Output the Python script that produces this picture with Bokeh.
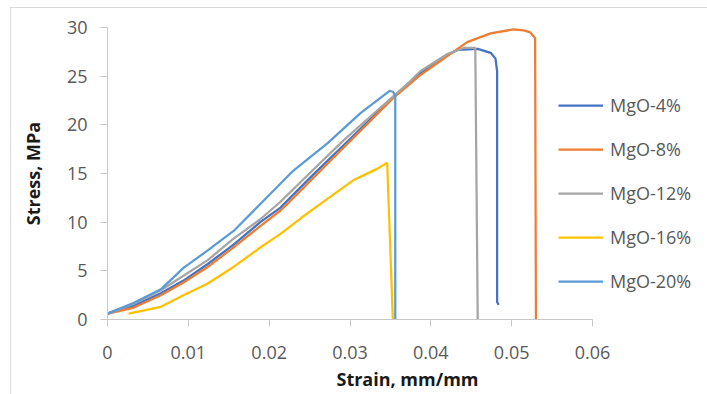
from bokeh.plotting import figure
from bokeh.models import Range1d, FixedTicker, CustomJSTickFormatter, Legend, LegendItem
from bokeh.embed import file_html
from bokeh.resources import INLINE

# ---- data ----
series_names = ["MgO-4%", "MgO-8%", "MgO-12%", "MgO-16%", "MgO-20%"]
series_colors = ["#4472C4", "#ED7D31", "#A5A5A5", "#FFC000", "#5B9BD5"]

mgo4_strain = [0, 0.0032, 0.0066, 0.0094, 0.0124, 0.0156, 0.0189, 0.0214, 0.0251, 0.0292,
               0.0313, 0.0354, 0.0387, 0.0421, 0.0433, 0.0458, 0.0474, 0.0480, 0.0482, 0.0482, 0.0484]
mgo4_stress = [0.6, 1.4, 2.7, 4.0, 5.7, 7.7, 10.0, 11.5, 14.6, 17.9,
               19.6, 22.9, 25.3, 27.2, 27.7, 27.8, 27.4, 26.8, 25.5, 1.8, 1.5]

mgo8_strain = [0, 0.0032, 0.0066, 0.0094, 0.0124, 0.0156, 0.0189, 0.0214, 0.0230, 0.0272,
               0.0313, 0.0354, 0.0387, 0.0421, 0.0445, 0.0474, 0.0502, 0.0515, 0.0523, 0.0529, 0.0530]
mgo8_stress = [0.6, 1.2, 2.5, 3.8, 5.4, 7.4, 9.6, 11.2, 12.5, 16.0,
               19.4, 22.8, 25.1, 27.1, 28.5, 29.4, 29.8, 29.7, 29.5, 28.9, 0]

mgo12_strain = [0, 0.0032, 0.0066, 0.0094, 0.0124, 0.0156, 0.0189, 0.0214, 0.0251, 0.0292,
                0.0334, 0.0371, 0.0387, 0.0421, 0.0441, 0.0455, 0.0458]
mgo12_stress = [0.6, 1.6, 3.0, 4.5, 6.1, 8.3, 10.3, 12.1, 15.1, 18.4,
                21.5, 24.2, 25.5, 27.3, 27.9, 27.9, 0]

mgo16_strain = [0.0026, 0.0066, 0.0094, 0.0124, 0.0156, 0.0189, 0.0214, 0.0239, 0.0272,
                0.0304, 0.0334, 0.0346, 0.0353]
mgo16_stress = [0.6, 1.3, 2.5, 3.7, 5.4, 7.4, 8.8, 10.4, 12.4,
                14.3, 15.5, 16.1, 0]

mgo20_strain = [0, 0.0032, 0.0066, 0.0094, 0.0124, 0.0156, 0.0193, 0.0230, 0.0272, 0.0313,
                0.0349, 0.0353, 0.0356, 0.0356]
mgo20_stress = [0.6, 1.7, 3.1, 5.3, 7.1, 9.1, 12.2, 15.3, 18.1, 21.2,
                23.5, 23.4, 23.0, 0]

x_ticks = [0, 0.01, 0.02, 0.03, 0.04, 0.05, 0.06]
y_ticks = [0, 5, 10, 15, 20, 25, 30]
x_title = "Strain, mm/mm"
y_title = "Stress, MPa"

series_x = [mgo4_strain, mgo8_strain, mgo12_strain, mgo16_strain, mgo20_strain]
series_y = [mgo4_stress, mgo8_stress, mgo12_stress, mgo16_stress, mgo20_stress]

FONT = "Open Sans"

# the frame runs to the right edge so the legend sits inside it; axis is bounded to 0..0.06
x_axis_end = x_ticks[-1]
x_view_end = x_axis_end * (707 - 107) / (592 - 107)

p = figure(width=707, height=394, output_backend="svg", toolbar_location=None,
           x_range=Range1d(0, x_view_end), y_range=Range1d(0, 30),
           min_border_left=107, min_border_right=0, min_border_top=27, min_border_bottom=75)
p.outline_line_color = None
p.xgrid.grid_line_color = None
p.ygrid.grid_line_color = None
p.background_fill_color = "white"
p.border_fill_color = None
# light grey chart-area border (left and top edges visible in the window)
p.styles = {
    "background": ("linear-gradient(#d9d9d9,#d9d9d9) 10px 7px / 1px 400px no-repeat, "
                   "linear-gradient(#d9d9d9,#d9d9d9) 10px 7px / 700px 1px no-repeat, white"),
}

for ax in (p.xaxis[0], p.yaxis[0]):
    ax.axis_line_color = "#C8C8C8"
    ax.major_tick_line_color = "#C8C8C8"
    ax.minor_tick_line_color = None
    ax.major_tick_in = 0
    ax.major_tick_out = 7
    ax.major_label_text_font = FONT
    ax.major_label_text_font_size = "18px"
    ax.major_label_text_color = "#595959"
    ax.axis_label_text_font = FONT
    ax.axis_label_text_font_size = "18px"
    ax.axis_label_text_font_style = "bold"
    ax.axis_label_text_color = "#1a1a1a"

p.xaxis[0].bounds = (0, x_axis_end)
p.xaxis[0].ticker = FixedTicker(ticks=x_ticks)
p.yaxis[0].ticker = FixedTicker(ticks=y_ticks)
p.xaxis[0].formatter = CustomJSTickFormatter(code="return tick == 0 ? '0' : tick.toFixed(2);")
p.xaxis[0].axis_label = x_title
p.yaxis[0].axis_label = y_title
p.xaxis[0].major_label_standoff = 19
p.xaxis[0].axis_label_standoff = 5
p.yaxis[0].major_label_standoff = 13
p.yaxis[0].axis_label_standoff = 19

items = []
for name, color, xs, ys in zip(series_names, series_colors, series_x, series_y):
    r = p.line(xs, ys, line_color=color, line_width=2.25)
    items.append(LegendItem(label=name, renderers=[r]))

legend = Legend(items=items, location=(451, 26), padding=0, margin=0, spacing=20,
                glyph_height=20, glyph_width=45, label_height=20, label_standoff=7,
                label_text_font=FONT, label_text_font_size="18px", label_text_color="#595959",
                border_line_color=None, background_fill_alpha=0)
p.add_layout(legend, "center")

open("out.html", "w").write(file_html(p, INLINE))
